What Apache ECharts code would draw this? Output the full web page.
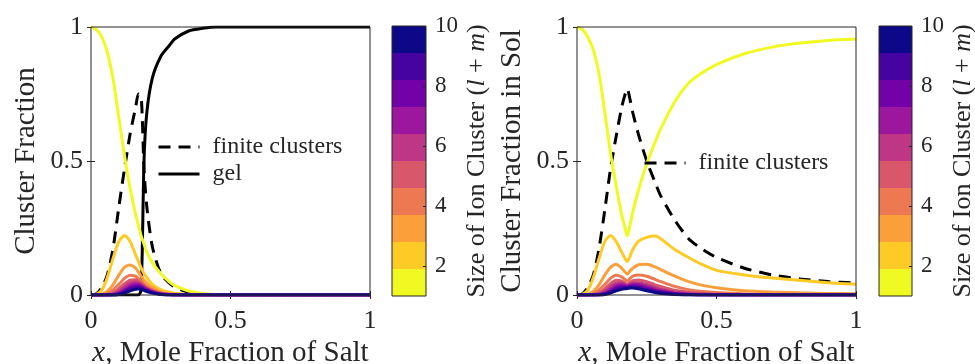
<!DOCTYPE html>
<html>
<head>
<meta charset="utf-8">
<script src="https://cdn.jsdelivr.net/npm/echarts@6/dist/echarts.min.js"></script>
<style>
  html, body { margin: 0; padding: 0; background: #fff; }
</style>
</head>
<body>
<div id="main" style="width: 975px; height: 364px"></div>
<script>
// mole fraction grid shared by every curve
var X = [0, 0.02, 0.04, 0.06, 0.08, 0.1, 0.12, 0.14, 0.16, 0.17, 0.18, 0.19, 0.2, 0.22, 0.25, 0.28, 0.3, 0.35, 0.4, 0.45, 0.5, 0.6, 0.7, 0.8, 0.9, 1];

// left panel: cluster fraction
var leftFinite = [0, 0.005, 0.03, 0.08, 0.18, 0.33, 0.47, 0.6, 0.7, 0.75, 0.74, 0.47, 0.33, 0.18, 0.08, 0.045, 0.03, 0.01, 0.003, 0, 0, 0, 0, 0, 0, 0];
var leftGel = [0, 0, 0, 0, 0, 0, 0, 0, 0, 0, 0.02, 0.5, 0.68, 0.81, 0.89, 0.93, 0.955, 0.985, 0.995, 1, 1, 1, 1, 1, 1, 1];
var leftSize1 = [1, 0.99, 0.96, 0.9, 0.8, 0.66, 0.52, 0.4, 0.3, 0.26, 0.22, 0.19, 0.16, 0.12, 0.08, 0.05, 0.035, 0.015, 0.006, 0.002, 0, 0, 0, 0, 0, 0];
var leftSize2 = [0, 0.003, 0.02, 0.07, 0.14, 0.2, 0.222, 0.2, 0.15, 0.125, 0.1, 0.08, 0.065, 0.04, 0.02, 0.01, 0.007, 0.002, 0, 0, 0, 0, 0, 0, 0, 0];
var leftSize3 = [0, 0, 0.003, 0.015, 0.04, 0.075, 0.103, 0.112, 0.1, 0.085, 0.07, 0.055, 0.045, 0.028, 0.012, 0.005, 0.003, 0, 0, 0, 0, 0, 0, 0, 0, 0];
var leftSize4 = [0, 0, 0.001, 0.006, 0.02, 0.04, 0.062, 0.074, 0.07, 0.062, 0.052, 0.04, 0.032, 0.02, 0.008, 0.003, 0.002, 0, 0, 0, 0, 0, 0, 0, 0, 0];
var leftSize5 = [0, 0, 0, 0.002, 0.009, 0.024, 0.042, 0.055, 0.057, 0.052, 0.044, 0.035, 0.027, 0.016, 0.006, 0.002, 0.001, 0, 0, 0, 0, 0, 0, 0, 0, 0];
var leftSize6 = [0, 0, 0, 0.001, 0.004, 0.014, 0.03, 0.044, 0.048, 0.045, 0.039, 0.031, 0.024, 0.014, 0.005, 0.002, 0.001, 0, 0, 0, 0, 0, 0, 0, 0, 0];
var leftSize7 = [0, 0, 0, 0, 0.002, 0.008, 0.021, 0.035, 0.04, 0.039, 0.034, 0.027, 0.021, 0.012, 0.004, 0.001, 0, 0, 0, 0, 0, 0, 0, 0, 0, 0];
var leftSize8 = [0, 0, 0, 0, 0.001, 0.005, 0.015, 0.027, 0.033, 0.034, 0.03, 0.024, 0.018, 0.01, 0.003, 0.001, 0, 0, 0, 0, 0, 0, 0, 0, 0, 0];
var leftSize9 = [0, 0, 0, 0, 0, 0.003, 0.01, 0.021, 0.027, 0.028, 0.026, 0.021, 0.016, 0.009, 0.003, 0.001, 0, 0, 0, 0, 0, 0, 0, 0, 0, 0];
var leftSize10 = [0, 0, 0, 0, 0, 0.002, 0.007, 0.016, 0.021, 0.022, 0.021, 0.017, 0.013, 0.007, 0.002, 0, 0, 0, 0, 0, 0, 0, 0, 0, 0, 0];

// right panel: cluster fraction in sol
var rightFinite = [0, 0.005, 0.03, 0.08, 0.18, 0.32, 0.47, 0.59, 0.7, 0.74, 0.77, 0.73, 0.68, 0.6, 0.5, 0.42, 0.37, 0.28, 0.21, 0.17, 0.14, 0.1, 0.075, 0.06, 0.05, 0.045];
var rightSize1 = [1, 0.99, 0.96, 0.91, 0.82, 0.68, 0.53, 0.41, 0.3, 0.26, 0.22, 0.26, 0.31, 0.39, 0.49, 0.57, 0.62, 0.72, 0.79, 0.83, 0.86, 0.9, 0.925, 0.94, 0.95, 0.955];
var rightSize2 = [0, 0.003, 0.02, 0.07, 0.14, 0.2, 0.222, 0.2, 0.16, 0.14, 0.125, 0.145, 0.17, 0.2, 0.215, 0.22, 0.21, 0.17, 0.14, 0.113, 0.092, 0.075, 0.063, 0.055, 0.046, 0.04];
var rightSize3 = [0, 0, 0.003, 0.015, 0.04, 0.075, 0.103, 0.115, 0.1, 0.088, 0.078, 0.09, 0.1, 0.113, 0.115, 0.105, 0.095, 0.07, 0.05, 0.036, 0.027, 0.016, 0.011, 0.008, 0.006, 0.005];
var rightSize4 = [0, 0, 0.001, 0.006, 0.02, 0.04, 0.062, 0.074, 0.068, 0.06, 0.052, 0.062, 0.07, 0.075, 0.07, 0.058, 0.05, 0.032, 0.02, 0.013, 0.009, 0.004, 0.002, 0.001, 0, 0];
var rightSize5 = [0, 0, 0, 0.002, 0.009, 0.024, 0.042, 0.055, 0.052, 0.046, 0.04, 0.047, 0.053, 0.056, 0.05, 0.038, 0.032, 0.018, 0.01, 0.006, 0.003, 0.001, 0, 0, 0, 0];
var rightSize6 = [0, 0, 0, 0.001, 0.004, 0.014, 0.03, 0.044, 0.045, 0.041, 0.036, 0.041, 0.045, 0.046, 0.039, 0.028, 0.022, 0.011, 0.006, 0.003, 0.001, 0, 0, 0, 0, 0];
var rightSize7 = [0, 0, 0, 0, 0.002, 0.008, 0.021, 0.035, 0.038, 0.036, 0.033, 0.037, 0.039, 0.039, 0.031, 0.021, 0.016, 0.007, 0.003, 0.001, 0, 0, 0, 0, 0, 0];
var rightSize8 = [0, 0, 0, 0, 0.001, 0.005, 0.015, 0.027, 0.032, 0.032, 0.03, 0.033, 0.034, 0.033, 0.025, 0.016, 0.012, 0.005, 0.002, 0, 0, 0, 0, 0, 0, 0];
var rightSize9 = [0, 0, 0, 0, 0, 0.003, 0.01, 0.021, 0.026, 0.027, 0.027, 0.029, 0.03, 0.028, 0.02, 0.012, 0.009, 0.003, 0.001, 0, 0, 0, 0, 0, 0, 0];
var rightSize10 = [0, 0, 0, 0, 0, 0.002, 0.007, 0.016, 0.021, 0.023, 0.024, 0.026, 0.026, 0.023, 0.016, 0.009, 0.006, 0.002, 0, 0, 0, 0, 0, 0, 0, 0];

// colorbar: cluster size 1..10
var sizes = [1, 2, 3, 4, 5, 6, 7, 8, 9, 10];
var sizeColors = ['#f0f921', '#fdca26', '#fb9f3a', '#ed7953', '#d8576b', '#bd3786', '#9c179e', '#7201a8', '#46039f', '#0d0887'];
var cbTicks = [2, 4, 6, 8, 10];
var xTicks = [0, 0.5, 1];

var leftSizes = [leftSize1, leftSize2, leftSize3, leftSize4, leftSize5, leftSize6, leftSize7, leftSize8, leftSize9, leftSize10];
var rightSizes = [rightSize1, rightSize2, rightSize3, rightSize4, rightSize5, rightSize6, rightSize7, rightSize8, rightSize9, rightSize10];

var FONT = "'Liberation Serif', 'DejaVu Serif', serif";
var INK = '#262626';

var chartDom = document.getElementById('main');
var myChart = echarts.init(chartDom);

function pts(ys) {
  return X.map(function (x, i) { return [x, ys[i]]; });
}

function curve(name, ax, ys, color, dashed) {
  return {
    name: name,
    type: 'line',
    xAxisIndex: ax,
    yAxisIndex: ax,
    data: pts(ys),
    smooth: 0.25,
    symbol: 'none',
    silent: true,
    lineStyle: { color: color, width: 3, type: dashed ? [12, 8] : 'solid' },
    itemStyle: { color: color }
  };
}

// main plot axes (bottom/top x, left/right y, ticks mirrored like a boxed plot)
function plotX(grid, bottom) {
  return {
    type: 'value', gridIndex: grid, min: 0, max: 1, interval: 0.5,
    position: bottom ? 'bottom' : 'top',
    axisLine: { show: false },
    axisTick: { show: true, inside: true, length: 4, lineStyle: { color: INK } },
    splitLine: { show: false },
    axisLabel: bottom ? {
      show: true, color: INK, fontFamily: FONT, fontSize: 26, margin: 13,
      customValues: xTicks,
      formatter: function (v) { return String(v); }
    } : { show: false },
    name: bottom ? '{i|x}, Mole Fraction of Salt' : '',
    nameLocation: 'middle',
    nameGap: 43,
    nameTextStyle: {
      color: INK, fontFamily: FONT, fontSize: 29,
      rich: { i: { fontStyle: 'italic', fontFamily: FONT, fontSize: 29, color: INK } }
    }
  };
}

function plotY(grid, left, name) {
  return {
    type: 'value', gridIndex: grid, min: 0, max: 1, interval: 0.5,
    position: left ? 'left' : 'right',
    axisLine: { show: false },
    axisTick: { show: true, inside: true, length: 4, lineStyle: { color: INK } },
    splitLine: { show: false },
    axisLabel: left ? {
      show: true, color: INK, fontFamily: FONT, fontSize: 26, margin: 8,
      formatter: function (v) { return String(v); }
    } : { show: false },
    name: left ? name : '',
    nameLocation: 'middle',
    nameRotate: 90,
    nameGap: 50,
    nameTextStyle: { color: INK, fontFamily: FONT, fontSize: 29 }
  };
}

function cbX(grid) {
  return {
    type: 'category', gridIndex: grid, data: [''],
    axisLine: { show: false }, axisTick: { show: false }, axisLabel: { show: false }
  };
}

function cbY(grid) {
  return {
    type: 'value', gridIndex: grid, min: 1, max: 10, position: 'right', z: 12,
    axisLine: { show: false },
    axisTick: { show: true, inside: true, length: 3, customValues: cbTicks, lineStyle: { color: INK } },
    axisLabel: { show: true, customValues: cbTicks, color: INK, fontFamily: FONT, fontSize: 23, margin: 9 },
    splitLine: { show: false },
    name: 'Size of Ion Cluster ({i|l} + {i|m})',
    nameLocation: 'middle',
    nameRotate: 90,
    nameGap: 38,
    nameTextStyle: {
      color: INK, fontFamily: FONT, fontSize: 26,
      rich: { i: { fontStyle: 'italic', fontFamily: FONT, fontSize: 26, color: INK } }
    }
  };
}

function colorbar(ax) {
  var out = [{
    type: 'bar', xAxisIndex: ax, yAxisIndex: ax, stack: 'cb' + ax, data: [1],
    barWidth: '100%', silent: true, itemStyle: { color: 'rgba(0,0,0,0)' }
  }];
  sizes.forEach(function (s, i) {
    out.push({
      name: 'size ' + s, type: 'bar', xAxisIndex: ax, yAxisIndex: ax, stack: 'cb' + ax,
      data: [0.9], barWidth: '100%', silent: true, itemStyle: { color: sizeColors[i] }
    });
  });
  return out;
}

var series = [];
// left plot: axes 0
series.push(curve('finite clusters', 0, leftFinite, '#000', true));
series.push(curve('gel', 0, leftGel, '#000', false));
leftSizes.forEach(function (ys, i) { series.push(curve('L' + sizes[i], 0, ys, sizeColors[i], false)); });
// right plot: axes 2
series.push(curve('finite clusters', 2, rightFinite, '#000', true));
rightSizes.forEach(function (ys, i) { series.push(curve('R' + sizes[i], 2, ys, sizeColors[i], false)); });
// colorbars: axes 1 and 3
series = series.concat(colorbar(1), colorbar(3));

// fixed boxes: no auto shrinking to fit labels
var gridBox = {
  show: true, backgroundColor: 'rgba(0,0,0,0)', borderColor: INK, borderWidth: 1, z: 10,
  containLabel: false, outerBoundsMode: 'none'
};

var legendBase = {
  orient: 'vertical', itemWidth: 41, itemHeight: 14, selectedMode: false,
  itemStyle: { opacity: 0 },
  lineStyle: { width: 3 },
  textStyle: { color: INK, fontFamily: FONT, fontSize: 24, padding: [0, 0, 0, 8] }
};

var option = {
  animation: false,
  backgroundColor: '#fff',
  grid: [
    Object.assign({ left: 91, top: 27, width: 279, height: 268 }, gridBox),
    Object.assign({ left: 392, top: 26, width: 34, height: 270 }, gridBox),
    Object.assign({ left: 577, top: 27, width: 279, height: 268 }, gridBox),
    Object.assign({ left: 879, top: 26, width: 33, height: 270 }, gridBox)
  ],
  xAxis: [
    plotX(0, true), cbX(1), plotX(2, true), cbX(3), plotX(0, false), plotX(2, false)
  ],
  yAxis: [
    plotY(0, true, 'Cluster Fraction'), cbY(1), plotY(2, true, 'Cluster Fraction in Sol'), cbY(3),
    plotY(0, false, ''), plotY(2, false, '')
  ],
  legend: [
    Object.assign({ data: ['finite clusters', 'gel'], left: 152, top: 130, itemGap: 3 }, legendBase),
    Object.assign({ data: ['finite clusters'], left: 638, top: 146 }, legendBase)
  ],
  series: series
};

option && myChart.setOption(option);
</script>
</body>
</html>
